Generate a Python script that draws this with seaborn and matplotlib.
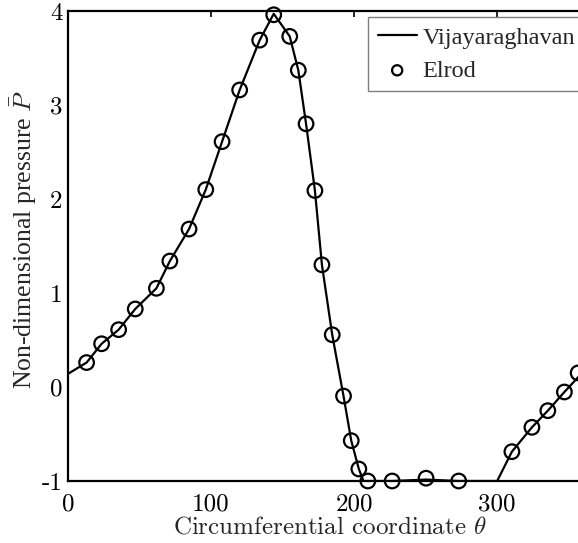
import matplotlib
matplotlib.use("Agg")
import matplotlib.pyplot as plt
import seaborn as sns
import pandas as pd

# Elrod (circles)
theta_elrod = [13.0, 23.5, 35.4, 47.0, 61.8, 71.2, 84.6, 96.3, 107.7, 120.0,
               134.0, 143.8, 155.0, 161.0, 166.4, 172.6, 177.5, 184.7, 192.6, 198.0,
               203.3, 209.6, 226.6, 250.3, 273.1, 310.3, 324.3, 335.4, 347.0, 356.6]
p_elrod = [0.26, 0.46, 0.61, 0.83, 1.05, 1.34, 1.68, 2.10, 2.61, 3.16,
           3.69, 3.96, 3.73, 3.37, 2.80, 2.09, 1.30, 0.556, -0.096, -0.571,
           -0.872, -1.0, -1.0, -0.97, -1.0, -0.688, -0.429, -0.252, -0.053, 0.15]

# Vijayaraghavan (line)
theta_vij = [0.0, 13.0, 23.5, 35.4, 47.0, 61.8, 71.2, 84.6, 96.3, 107.7, 120.0,
             134.0, 143.8, 155.0, 161.0, 166.4, 172.6, 177.5, 184.7, 192.6, 198.0,
             203.3, 206.5, 226.6, 250.3, 273.1, 300.0, 310.3, 324.3, 335.4, 347.0, 360.0]
p_vij = [0.14, 0.26, 0.46, 0.61, 0.83, 1.05, 1.34, 1.68, 2.10, 2.61, 3.16,
         3.69, 3.97, 3.73, 3.37, 2.80, 2.09, 1.30, 0.556, -0.096, -0.571,
         -0.872, -1.0, -1.0, -0.985, -1.0, -1.0, -0.688, -0.429, -0.252, -0.053, 0.16]

xticks = [0, 100, 200, 300]
yticks = [-1, 0, 1, 2, 3, 4]

sns.set_style("white")
plt.rcParams["mathtext.fontset"] = "cm"
plt.rcParams["axes.unicode_minus"] = False
plt.rcParams["font.family"] = ["cmr10", "DejaVu Serif"]

df_line = pd.DataFrame({"theta": theta_vij, "P": p_vij})
df_pts = pd.DataFrame({"theta": theta_elrod, "P": p_elrod})

W, H = 578, 543
fig = plt.figure(figsize=(W / 100, H / 100), dpi=100)
ax = fig.add_axes([68 / W, (H - 481) / H, (583 - 68) / W, (481 - 11) / H])

sns.lineplot(data=df_line, x="theta", y="P", ax=ax, color="black", lw=1.6,
             label="Vijayaraghavan", sort=False)
sns.scatterplot(data=df_pts, x="theta", y="P", ax=ax, marker="o", s=110,
                facecolors="none", edgecolor="black", linewidth=1.6,
                label="Elrod", zorder=3, clip_on=False)

ax.set_xlim(0, 360)
ax.set_ylim(-1, 4)
ax.set_xticks(xticks)
ax.set_yticks(yticks)
ax.set_xticklabels([str(t) for t in xticks])
ax.set_yticklabels([str(t) for t in yticks])

for s in ax.spines.values():
    s.set_linewidth(1.6)
    s.set_color("black")

ax.tick_params(direction="in", length=4, width=1.2, top=True, right=False,
               labelsize=18, colors="black")
ax.tick_params(axis="x", pad=9)
ax.tick_params(axis="y", pad=4)

ax.set_xlabel(r"Circumferential coordinate $\theta$", fontsize=18)
ax.set_ylabel(r"Non-dimensional pressure $\bar{P}$", fontsize=18.5,
              family="Liberation Serif")
ax.xaxis.set_label_coords(0.509, -0.076)
ax.yaxis.set_label_coords(-0.056, 0.513)

leg = ax.legend(loc="upper left", bbox_to_anchor=((368 - 68) / 515, (481 - 17) / 470),
                borderaxespad=0, frameon=True, fancybox=False,
                prop={"family": "Liberation Serif", "size": 17.5},
                handlelength=1.6, handletextpad=0.25, labelspacing=0.45,
                borderpad=0.4, markerscale=0.7)
leg.get_frame().set_edgecolor("#7f7f7f")
leg.get_frame().set_linewidth(1.0)
leg.get_frame().set_alpha(1)

fig.savefig("out.png", dpi=100)
